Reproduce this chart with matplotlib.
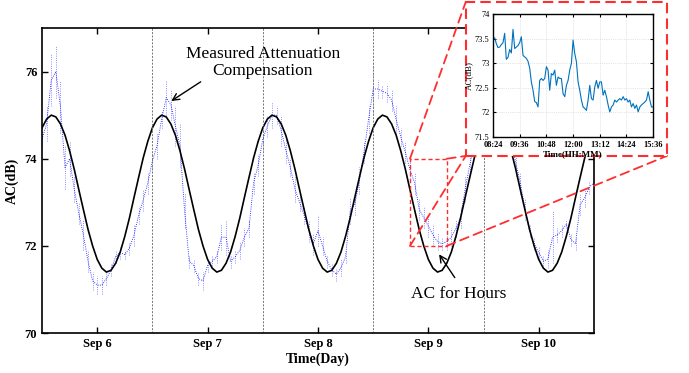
import numpy as np
import pandas as pd
import matplotlib
matplotlib.use('Agg')
import matplotlib.pyplot as plt
import matplotlib.dates as mdates
from matplotlib.patches import Rectangle, ConnectionPatch

plt.rcParams['font.family'] = 'Liberation Serif'

## data

# hourly measured attenuation compensation (low / high of the point cloud), from Sep 5 12:00
measured_low = [74.3, 74.4, 75.2, 75.4, 74.6, 73.3, 73.6, 73.0, 72.5, 71.9, 71.4, 71.0,
                70.9, 70.9, 71.1, 71.3, 71.6, 71.7, 71.7, 71.8, 72.0, 72.5, 72.8, 73.2,
                73.7, 74.0, 74.7, 75.0, 74.9, 74.3, 73.8, 72.4, 71.5, 71.4, 71.1, 71.0,
                71.4, 71.5, 71.6, 71.9, 71.8, 71.5, 71.6, 71.7, 72.0, 72.2, 73.2, 73.6,
                74.2, 74.5, 74.7, 74.8, 74.3, 73.9, 73.6, 73.0, 72.8, 72.5, 72.1, 71.8,
                72.0, 71.8, 71.5, 71.3, 71.2, 71.3, 71.6, 72.5, 72.7, 73.2, 73.9, 74.6,
                75.0, 75.4, 75.4, 75.3, 75.1, 74.6, 74.3, 73.9, 73.5, 73.2, 72.6, 72.4,
                72.2, 72.0, 71.9, 71.9, 71.9, 72.0, 72.2, 72.4, 73.0, 73.6, 74.1, 74.6,
                74.8, 75.0, 75.2, 75.1, 74.9, 74.6, 74.2, 73.6, 73.2, 72.6, 72.2, 71.9,
                71.7, 71.5, 71.5, 71.6, 72.1, 72.2, 72.4, 72.0, 71.9, 72.7, 72.9, 73.2,
                73.3]
measured_high = [74.6, 75.2, 76.4, 76.6, 75.8, 74.3, 74.4, 73.6, 73.0, 72.6, 71.9, 71.4,
                 71.3, 71.3, 71.4, 71.6, 71.9, 72.0, 71.9, 72.1, 72.5, 72.9, 73.3, 73.7,
                 74.2, 74.6, 75.1, 75.8, 75.6, 75.2, 74.8, 73.2, 71.8, 71.7, 71.4, 71.4,
                 71.7, 71.8, 71.9, 72.5, 72.6, 71.8, 71.9, 72.1, 72.4, 72.6, 73.7, 74.1,
                 74.7, 75.0, 75.3, 75.2, 75.0, 74.5, 74.0, 73.6, 73.2, 72.9, 72.6, 72.3,
                 72.7, 72.2, 71.8, 71.6, 71.5, 71.7, 71.9, 73.1, 73.2, 73.8, 74.4, 75.2,
                 76.2, 75.8, 75.7, 75.7, 75.6, 75.2, 74.7, 74.4, 74.0, 73.7, 73.1, 72.9,
                 72.7, 72.5, 72.3, 72.2, 72.3, 72.4, 72.6, 72.9, 73.6, 74.1, 74.6, 75.0,
                 75.3, 75.5, 75.6, 75.6, 75.4, 75.1, 74.8, 74.2, 73.7, 73.1, 72.5, 72.2,
                 72.0, 71.8, 71.9, 72.8, 72.4, 72.5, 72.6, 72.3, 72.2, 73.2, 73.3, 73.5,
                 73.6]

# fitted diurnal AC, one value per hour starting at 12:00
ac_cycle = [74.71, 74.91, 75.00, 74.96, 74.80, 74.54, 74.18, 73.76, 73.29, 72.83, 72.38, 72.00,
            71.69, 71.49, 71.40, 71.44, 71.60, 71.86, 72.22, 72.64, 73.11, 73.57, 74.02, 74.40]

day_labels = ['Sep 6', 'Sep 7', 'Sep 8', 'Sep 9', 'Sep 10']

# zoomed segment, samples every 4.5 min from 08:24
zoom_ac = [73.50, 73.52, 73.40, 73.32, 73.33, 73.38, 73.42, 73.61, 73.08, 73.12, 73.28, 73.21,
           73.69, 73.30, 73.33, 73.36, 73.42, 73.54, 73.16, 73.13, 73.10, 73.04, 72.90, 72.62,
           72.45, 72.22, 72.20, 72.11, 72.65, 72.69, 72.65, 72.69, 72.93, 72.86, 72.45, 72.79,
           72.76, 72.86, 72.55, 72.72, 72.69, 72.69, 72.38, 72.32, 72.55, 72.65, 72.86, 73.00,
           73.47, 73.20, 73.03, 72.62, 72.45, 72.25, 72.11, 72.08, 72.04, 72.25, 72.55, 72.28,
           72.25, 72.52, 72.65, 72.49, 72.62, 72.62, 72.35, 72.45, 72.32, 72.15, 72.01, 72.11,
           72.15, 72.25, 72.21, 72.25, 72.28, 72.25, 72.32, 72.25, 72.28, 72.21, 72.25, 72.11,
           72.18, 72.08, 72.15, 72.01, 72.11, 72.15, 72.18, 72.21, 72.25, 72.42, 72.25, 72.11,
           72.11]
zoom_ticks = ['08:24', '09:36', '10:48', '12:00', '13:12', '14:24', '15:36']


times = pd.date_range('2023-09-05 12:00', periods=len(measured_low), freq='h')
ac_fit = np.append(np.tile(ac_cycle, 5), ac_cycle[0])
low = np.array(measured_low)
high = np.array(measured_high)

red = '#ff2e2e'

fig = plt.figure(figsize=(6.89, 3.73), dpi=100)
ax = fig.add_axes([0.061, 0.107, 0.801, 0.818])

# measured points: dotted spread per hour + dotted trace
ax.vlines(times, low, high, colors='blue', linestyles=':', lw=0.6, alpha=0.6)
ax.plot(times, (low + high) / 2, ':', color='blue', lw=0.6)
ax.plot(times, ac_fit, color='k', lw=1.2)

for d in pd.date_range('2023-09-06 12:00', periods=4, freq='D'):
    ax.axvline(d, color='0.45', lw=0.7, ls=(0, (2, 1.5)))

ax.set_xlim(pd.Timestamp('2023-09-05 12:00'), pd.Timestamp('2023-09-10 12:00'))
ax.set_ylim(70, 77)
ax.set_yticks([70, 72, 74, 76])
ax.set_xticks(pd.date_range('2023-09-06', periods=5, freq='D'))
ax.set_xticklabels(day_labels)
ax.tick_params(direction='in', top=True, right=True, length=4, width=1, labelsize=9)
for lab in ax.get_xticklabels() + ax.get_yticklabels():
    lab.set_fontweight('bold')
for s in ax.spines.values():
    s.set_linewidth(1.2)
ax.set_xlabel('Time(Day)', fontsize=10, fontweight='bold', labelpad=2)
ax.set_ylabel('AC(dB)', fontsize=10, fontweight='bold', labelpad=4)

# annotations
ax.text(pd.Timestamp('2023-09-07 12:00'), 76.2, 'Measured Attenuation\nCompensation',
        ha='center', va='center', fontsize=12.5, linespacing=1.1)
ax.annotate('', xy=(pd.Timestamp('2023-09-06 15:36'), 75.29),
            xytext=(pd.Timestamp('2023-09-06 23:00'), 75.8),
            arrowprops=dict(arrowstyle='->', color='k', lw=1, mutation_scale=12))
ax.text(pd.Timestamp('2023-09-09 06:40'), 70.9, 'AC for Hours',
        ha='center', va='center', fontsize=12.5)
ax.annotate('', xy=(pd.Timestamp('2023-09-09 02:00'), 71.86),
            xytext=(pd.Timestamp('2023-09-09 06:05'), 71.22),
            arrowprops=dict(arrowstyle='->', color='k', lw=1, mutation_scale=12))

# small zoom rectangle
r0 = mdates.date2num(pd.Timestamp('2023-09-08 20:00'))
r1 = mdates.date2num(pd.Timestamp('2023-09-09 04:00'))
ax.add_patch(Rectangle((r0, 72), r1 - r0, 2, fill=False, ec=red, lw=1.0,
                       ls=(0, (3, 2)), zorder=5))

# inset frame and links
fx0, fy0, fx1, fy1 = 0.676, 0.582, 0.968, 0.995
fig.add_artist(Rectangle((fx0, fy0), fx1 - fx0, fy1 - fy0, transform=fig.transFigure,
                         fc='white', ec=red, lw=1.5, ls=(0, (5, 2.5)), zorder=2))
links = [((r0, 74), (fx0, fy1)), ((r1, 74), (fx0, fy0)),
         ((r0, 72), (fx0, fy0)), ((r1, 72), (fx1, fy0))]
for pa, pb in links:
    fig.add_artist(ConnectionPatch(pa, pb, coordsA=ax.transData, coordsB=fig.transFigure,
                                   color=red, lw=1.3, ls=(0, (5, 3)), zorder=1.5))

axi = fig.add_axes([0.7155, 0.633, 0.2325, 0.329], zorder=3)
minutes = np.arange(len(zoom_ac)) * 4.5
axi.plot(minutes, zoom_ac, color='#0072BD', lw=0.8)
axi.set_xlim(0, 432)
axi.set_ylim(71.5, 74)
axi.set_xticks(np.arange(0, 433, 72))
axi.set_xticklabels(zoom_ticks, fontweight='bold')
axi.set_yticks([71.5, 72, 72.5, 73, 73.5, 74])
axi.set_yticklabels(['71.5', '72', '72.5', '73', '73.5', '74'])
axi.tick_params(direction='in', top=True, right=True, length=2.5, labelsize=6)
axi.tick_params(axis='x', pad=3)
axi.tick_params(axis='y', pad=2.5)
axi.grid(True, ls=':', lw=0.5, color='0.8')
axi.set_xlabel('Time(HH:MM)', fontsize=6.5, fontweight='bold', labelpad=0.5)
axi.set_ylabel('AC(dB)', fontsize=6.5, labelpad=1)
for s in axi.spines.values():
    s.set_linewidth(1.0)

plt.savefig('out.png', dpi=100)
